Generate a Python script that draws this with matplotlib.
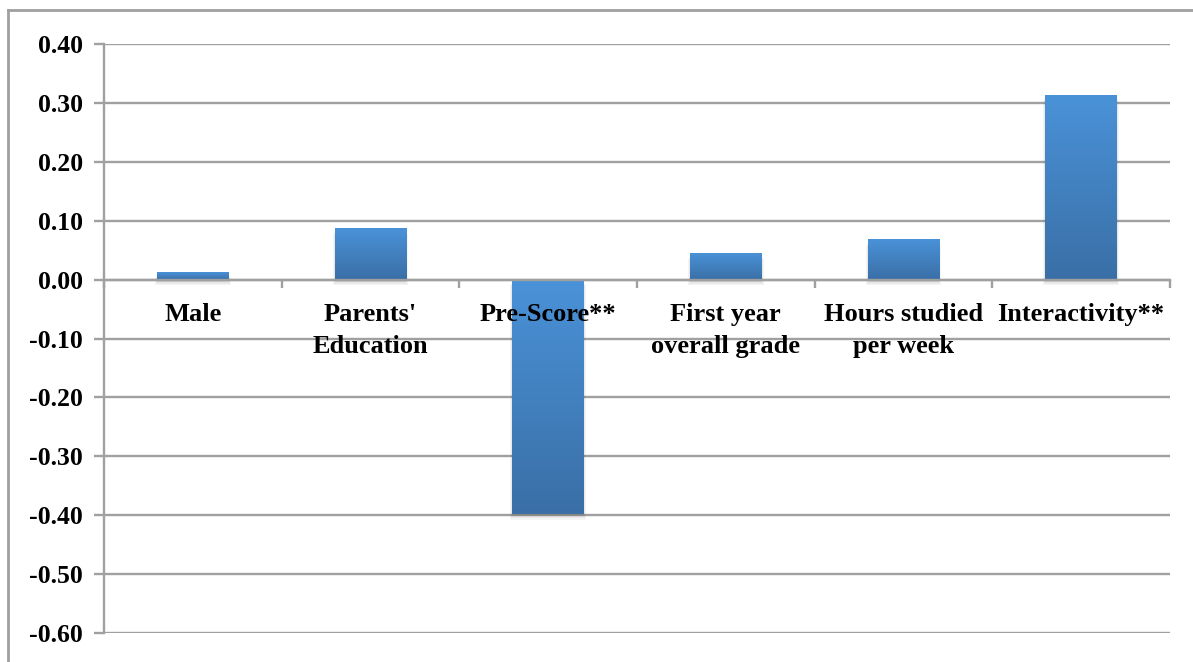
import matplotlib.pyplot as plt
import numpy as np
from matplotlib.patches import Rectangle
from matplotlib.colors import LinearSegmentedColormap
from matplotlib.lines import Line2D

# 변수별 계수 값
categories = ["Male", "Parents'\nEducation", "Pre-Score**", "First year\noverall grade",
              "Hours studied\nper week", "Interactivity**"]
values = [0.012, 0.087, -0.398, 0.045, 0.068, 0.313]
yticks = [-0.6, -0.5, -0.4, -0.3, -0.2, -0.1, 0.0, 0.1, 0.2, 0.3, 0.4]

plt.rcParams['font.family'] = ['Liberation Serif', 'DejaVu Serif']
plt.rcParams['axes.unicode_minus'] = False

W, H = 1193, 662
fig = plt.figure(figsize=(W / 100, H / 100), dpi=100)
ax = fig.add_axes([104 / W, 29 / H, (1170 - 104) / W, (633 - 44) / H])

grey = '#a0a0a0'
n = len(categories)
ax.set_xlim(0, n)
ax.set_ylim(-0.6, 0.4)

# 격자선
for t in yticks:
    ax.axhline(t, color=grey, lw=1.7, zorder=1)

# 그라데이션 막대
cmap = LinearSegmentedColormap.from_list('bar', ['#3a6fa6', '#4a92d8'])
grad = np.linspace(0, 1, 256).reshape(-1, 1)
bw = 0.405
for i, v in enumerate(values):
    x0 = i + 0.5 - bw / 2
    lo, hi = min(0, v), max(0, v)
    # 그림자
    for k, a in enumerate([0.06, 0.05, 0.04]):
        off = 0.004 + k * 0.003
        ax.add_patch(Rectangle((x0 - 0.005 * k, lo - off), bw + 0.01 * k, hi - lo,
                               facecolor='black', alpha=a, lw=0, zorder=1.5))
    ax.imshow(grad, extent=[x0, x0 + bw, lo, hi], origin='lower', cmap=cmap,
              aspect='auto', zorder=2, interpolation='bicubic')
ax.set_xlim(0, n)
ax.set_ylim(-0.6, 0.4)

# 축 설정
for s in ['top', 'right']:
    ax.spines[s].set_visible(False)
ax.spines['left'].set_color(grey)
ax.spines['left'].set_linewidth(1.7)
ax.spines['bottom'].set_position(('data', 0))
ax.spines['bottom'].set_color(grey)
ax.spines['bottom'].set_linewidth(1.7)
ax.spines['bottom'].set_zorder(3)

ax.set_yticks(yticks)
ax.set_yticklabels(['%.2f' % t for t in yticks], fontsize=18.5, fontweight='bold')
ax.tick_params(axis='y', length=7, width=1.7, color=grey, pad=8)
ax.set_xticks(np.arange(0, n + 1))
ax.set_xticklabels([])
ax.tick_params(axis='x', length=6, width=1.7, color=grey, direction='out')

# 항목 이름
for i, c in enumerate(categories):
    ax.annotate(c, (i + 0.5, 0), xytext=(0, -17), textcoords='offset points',
                ha='center', va='top', fontsize=19, fontweight='bold',
                linespacing=1.5, zorder=5)

# 바깥 테두리
fig.add_artist(Line2D([8 / W, 8 / W], [0, 1 - 10 / H], transform=fig.transFigure,
                      color=grey, lw=2))
fig.add_artist(Line2D([8 / W, 1], [1 - 10 / H, 1 - 10 / H], transform=fig.transFigure,
                      color=grey, lw=2))

fig.savefig('out.png', dpi=100)
